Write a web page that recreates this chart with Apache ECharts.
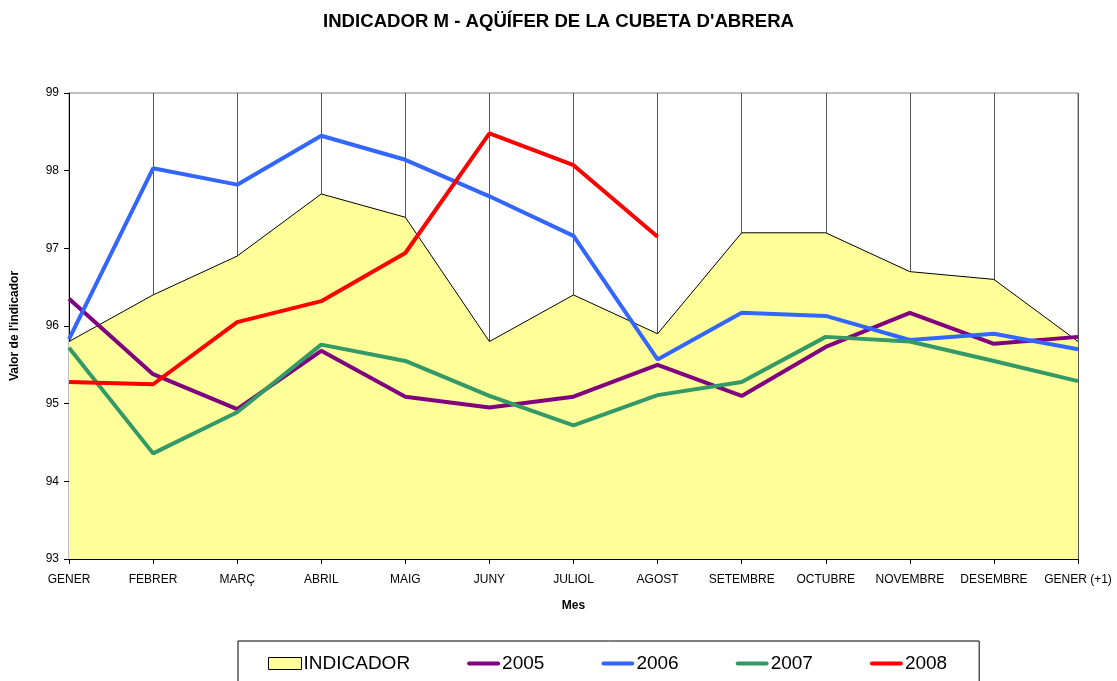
<!DOCTYPE html>
<html>
<head>
<meta charset="utf-8">
<script src="https://cdn.jsdelivr.net/npm/echarts@6/dist/echarts.min.js"></script>
<style>html,body{margin:0;padding:0;background:#fff}#c{width:1117px;height:681px}</style>
</head>
<body>
<div id="c"></div>
<script>
const months = ['GENER','FEBRER','MARÇ','ABRIL','MAIG','JUNY','JULIOL','AGOST','SETEMBRE','OCTUBRE','NOVEMBRE','DESEMBRE','GENER (+1)'];
const indicador = [95.8, 96.4, 96.9, 97.7, 97.4, 95.8, 96.4, 95.9, 97.2, 97.2, 96.7, 96.6, 95.8];
const s2005 = [96.35, 95.38, 94.93, 95.68, 95.09, 94.95, 95.09, 95.5, 95.1, 95.73, 96.17, 95.77, 95.86];
const s2006 = [95.83, 98.03, 97.82, 98.45, 98.14, 97.67, 97.16, 95.57, 96.17, 96.13, 95.82, 95.9, 95.7];
const s2007 = [95.72, 94.36, 94.89, 95.76, 95.55, 95.1, 94.72, 95.11, 95.28, 95.86, 95.8, 95.55, 95.29];
const s2008 = [95.28, 95.25, 96.05, 96.32, 96.94, 98.48, 98.07, 97.15, null, null, null, null, null];
const yTicks = {min: 93, max: 99, interval: 1};

const font = 'Arial, "Liberation Sans", sans-serif';
const lineIcon = 'path://M0,0 L0.01,0 L0,0.01 Z M2,4 L31,4 A2,2 0 0 1 31,8 L2,8 A2,2 0 0 1 2,4 Z M33,12 L32.99,12 L33,11.99 Z';
const chart = echarts.init(document.getElementById('c'), null, {renderer: 'canvas'});
function lineSeries(name, data, color) {
  return {
    name, type: 'line', data, symbol: 'none', showSymbol: false,
    lineStyle: {color, width: 4}, itemStyle: {color}, z: 3, connectNulls: false, animation: false
  };
}
chart.setOption({
  animation: false,
  backgroundColor: '#fff',
  title: {
    text: "INDICADOR M - AQÜÍFER DE LA CUBETA D'ABRERA",
    left: 'center', top: 7,
    textStyle: {fontFamily: font, fontSize: 18.6, fontWeight: 'bold', color: '#000'}
  },
  grid: {left: 69, right: 39, top: 93, bottom: 122, show: true, borderColor: '#808080', borderWidth: 1, backgroundColor: '#fff'},
  legend: {
    left: 238, top: 641,
    padding: [13, 32, 14, 30],
    borderColor: '#000', borderWidth: 1,
    itemWidth: 33, itemHeight: 12, itemGap: 57,
    textStyle: {fontFamily: font, fontSize: 19, color: '#000', padding: [0, 0, 0, -3]},
    data: [
      {name: 'INDICADOR', icon: 'rect', itemStyle: {color: '#FFFF99', borderColor: '#000', borderWidth: 1}},
      {name: '2005', icon: lineIcon, itemStyle: {color: '#800080', borderWidth: 0}},
      {name: '2006', icon: lineIcon, itemStyle: {color: '#3366FF', borderWidth: 0}},
      {name: '2007', icon: lineIcon, itemStyle: {color: '#339966', borderWidth: 0}},
      {name: '2008', icon: lineIcon, itemStyle: {color: '#FF0000', borderWidth: 0}}
    ]
  },
  xAxis: {
    type: 'category', data: months, boundaryGap: false,
    name: 'Mes', nameLocation: 'middle', nameGap: 41,
    nameTextStyle: {fontFamily: font, fontSize: 12, fontWeight: 'bold', color: '#000'},
    axisLine: {lineStyle: {color: '#000', width: 1}},
    axisTick: {show: true, length: 5, lineStyle: {color: '#000'}, interval: 0},
    axisLabel: {fontFamily: font, fontSize: 12, color: '#000', margin: 15, interval: 0},
    splitLine: {show: true, interval: 0, lineStyle: {color: '#555', width: 1}}
  },
  yAxis: {
    type: 'value', min: yTicks.min, max: yTicks.max, interval: yTicks.interval,
    name: "Valor de l'indicador", nameLocation: 'middle', nameGap: 48, nameRotate: 90,
    nameTextStyle: {fontFamily: font, fontSize: 12, fontWeight: 'bold', color: '#000'},
    axisLine: {show: true, lineStyle: {color: '#000', width: 1}},
    axisTick: {show: true, length: 5, lineStyle: {color: '#000'}},
    axisLabel: {fontFamily: font, fontSize: 12, color: '#000', margin: 10},
    splitLine: {show: false}
  },
  series: [
    {
      name: 'INDICADOR', type: 'line', data: indicador, symbol: 'none', showSymbol: false,
      lineStyle: {color: '#000', width: 1},
      itemStyle: {color: '#FFFF99', borderColor: '#000'},
      areaStyle: {color: '#FFFF99', opacity: 1},
      z: 2
    },
    lineSeries('2005', s2005, '#800080'),
    lineSeries('2006', s2006, '#3366FF'),
    lineSeries('2007', s2007, '#339966'),
    lineSeries('2008', s2008, '#FF0000')
  ]
});
</script>
</body>
</html>
